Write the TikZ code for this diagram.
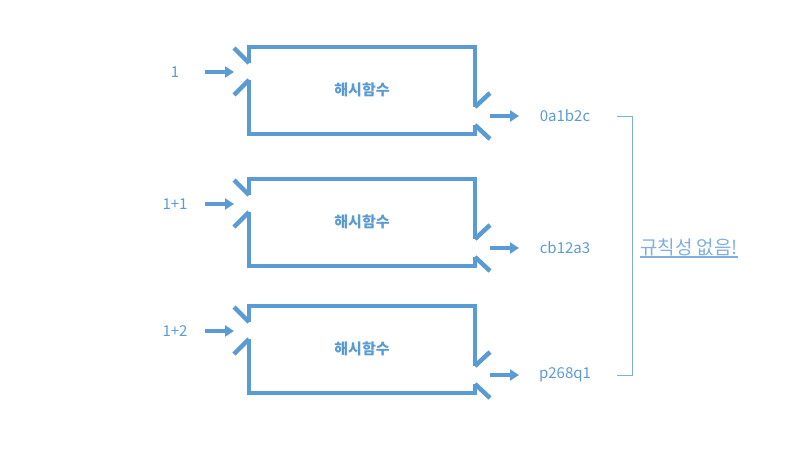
\documentclass[tikz,border=0pt]{standalone}
\usepackage{fontspec}
\setmainfont{Noto Sans CJK KR}
\usetikzlibrary{arrows.meta}
\definecolor{hb}{HTML}{5B9BD5}
\definecolor{hl}{HTML}{7FAEDF}
\tikzset{
  boxline/.style={draw=hb, line width=4.5pt, line cap=butt, line join=miter},
  arr/.style={draw=hb, line width=3.5pt, -{Triangle[length=9pt,width=11pt]}},
  lbl/.style={text=hb, font=\fontsize{15pt}{17pt}\selectfont, inner sep=0pt},
  fname/.style={text=hb, font=\fontsize{15pt}{17pt}\selectfont\bfseries, inner sep=0pt},
  note/.style={text=hl, font=\fontsize{19pt}{21pt}\selectfont, inner sep=0pt},
  brk/.style={draw=hl, line width=1pt}
}
\begin{document}
\begin{tikzpicture}[x=1pt,y=-1pt]
\useasboundingbox (0,0) rectangle (800,450);
\foreach \T/\inp/\outp/\n in {47/1/0a1b2c/a, 179/1+1/cb12a3/b, 306/1+2/p268q1/c}{
  % box outline
  \draw[boxline] (249,{\T+16}) -- (249,\T) -- (475,\T) -- (475,{\T+60});
  \draw[boxline] (249,{\T+33}) -- (249,{\T+87}) -- (475,{\T+87}) -- (475,{\T+78});
  \draw[boxline] (249,{\T+16}) -- (234,{\T+1});
  \draw[boxline] (249,{\T+33}) -- (234,{\T+48});
  \draw[boxline] (475,{\T+60}) -- (490,{\T+46});
  \draw[boxline] (475,{\T+78}) -- (490,{\T+92});
  \node[fname] (f\n) at (362,{\T+43}) {해시함수};
  % input
  \node[lbl] (i\n) at (175,{\T+25}) {\inp};
  \coordinate (is\n) at (205,{\T+25});
  \coordinate (ie\n) at (234,{\T+25});
  \draw[arr] (is\n) -- (ie\n);
  % output
  \node[lbl] (o\n) at (565,{\T+69}) {\outp};
  \coordinate (os\n) at (490,{\T+69});
  \coordinate (oe\n) at (519,{\T+69});
  \draw[arr] (os\n) -- (oe\n);
}
\coordinate (bt) at (632,116);
\coordinate (bb) at (632,375);
\draw[brk] (617,116) -- (bt) -- (bb) -- (617,375);
\node[note, anchor=west] (nt) at (640,247) {규칙성 없음!};
\draw[draw=hl, line width=1.5pt] ([yshift=-1pt]nt.south west) -- ([yshift=-1pt]nt.south east);
\end{tikzpicture}
\end{document}
